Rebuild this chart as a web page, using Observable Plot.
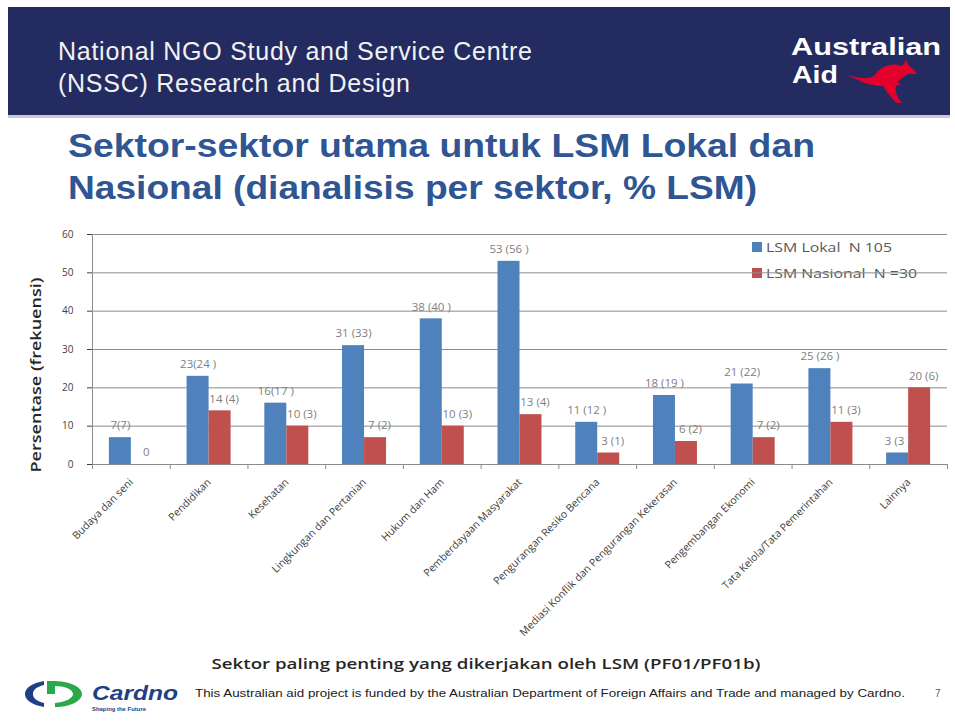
<!DOCTYPE html>
<html>
<head>
<meta charset="utf-8">
<script src="https://cdn.jsdelivr.net/npm/d3@7"></script>
<script src="https://cdn.jsdelivr.net/npm/@observablehq/plot@0.6"></script>
<style>
  html, body { margin: 0; padding: 0; background: #fff; }
  body { width: 955px; height: 722px; position: relative; overflow: hidden; font-family: "Liberation Sans", Arial, sans-serif; }
  #deco { position: absolute; left: 0; top: 0; }
  #chart { position: absolute; left: 0; top: 224px; }
  #chart svg { overflow: visible; }
  #deco text { white-space: pre; }
</style>
</head>
<body>
<svg id="deco" width="955" height="722"></svg>
<div id="chart"></div>
<script>
// ---- data ----
const categories = [
  "Budaya dan seni", "Pendidikan", "Kesehatan", "Lingkungan dan Pertanian",
  "Hukum dan Ham", "Pemberdayaan Masyarakat", "Pengurangan Resiko Bencana",
  "Mediasi Konflik dan Pengurangan Kekerasan", "Pengembangan Ekonomi",
  "Tata Kelola/Tata Pemerintahan", "Lainnya"
];
const lokal    = [7, 23, 16, 31, 38, 53, 11, 18, 21, 25, 3];
const nasional = [0, 14, 10, 7, 10, 13, 3, 6, 7, 11, 20];
const lokalLabels    = ["7(7)", "23(24 )", "16(17 )", "31 (33)", "38 (40 )", "53 (56 )", "11 (12 )", "18 (19 )", "21 (22)", "25 (26 )", "3 (3 )"];
const nasionalLabels = ["0", "14 (4)", "10 (3)", "7 (2)", "10 (3)", "13 (4)", "3 (1)", "6 (2)", "7 (2)", "11 (3)", "20 (6)"];
const yTicks = [0, 10, 20, 30, 40, 50, 60];
const seriesNames = ["LSM Lokal  N 105", "LSM Nasional  N =30"];
const seriesColors = ["#4f81bd", "#c0504d"];
const headerLines = ["National NGO Study and Service Centre", "(NSSC) Research and Design"];
const titleLines = ["Sektor-sektor utama untuk LSM Lokal dan", "Nasional (dianalisis per sektor, % LSM)"];
const yTitle = "Persentase (frekuensi)";
const xTitle = "Sektor paling penting yang dikerjakan oleh LSM (PF01/PF01b)";
const footerText = "This Australian aid project is funded by the Australian Department of Foreign Affairs and Trade and managed by Cardno.";
const pageNumber = "7";

// ---- chart ----
const rows = categories.map((c, i) => ({c, lokal: lokal[i], nasional: nasional[i], ll: lokalLabels[i], nl: nasionalLabels[i]}));
const W = 955, ML = 92, MR = 8;
const step = (W - ML - MR) / categories.length;
const barW = 22;
const pin = 1 - (2 * barW) / step;
const grid = "#8c8c8c";

const chart = Plot.plot({
  width: W, height: 430,
  marginTop: 10, marginRight: MR, marginBottom: 190, marginLeft: ML,
  style: {fontFamily: "'Open Sans', sans-serif", fontSize: "10px", color: "#404040", background: "transparent", overflow: "visible"},
  x: {domain: categories, round: false, paddingInner: pin, paddingOuter: pin / 2, tickSize: 0, tickRotate: -45, tickPadding: 16, label: null},
  y: {domain: [0, 60], ticks: yTicks, tickSize: 5, tickPadding: 14, label: null},
  marks: [
    Plot.ruleY(yTicks, {stroke: grid}),
    Plot.ruleX([categories[0]], {x: d => d, dx: -step / 2, stroke: grid}),
    Plot.barY(rows, {x: "c", y: "lokal", fill: seriesColors[0], insetRight: barW}),
    Plot.barY(rows, {x: "c", y: "nasional", fill: seriesColors[1], insetLeft: barW}),
    Plot.ruleX(categories, {x: d => d, y1: 0, y2: 0, insetBottom: -5, dx: -step / 2, stroke: grid}),
    Plot.ruleX(categories.slice(-1), {x: d => d, y1: 0, y2: 0, insetBottom: -5, dx: step / 2, stroke: grid}),
    Plot.text(rows, {x: "c", y: "lokal", text: "ll", dx: -barW / 2, dy: -12, fill: "#808080", fontSize: 11.5}),
    Plot.text(rows, {x: "c", y: "nasional", text: "nl", dx: barW / 2 + 4, dy: -12, fill: "#808080", fontSize: 11.5})
  ]
});
document.getElementById("chart").appendChild(chart);
// slightly larger category labels, like the reference
d3.select(chart).selectAll('[aria-label="x-axis tick label"] text').attr("font-size", 10.5);

// ---- decorations: header, title, axis titles, legend, footer ----
const deco = d3.select("#deco");
// header band
deco.append("rect").attr("x", 8).attr("y", 7).attr("width", 942).attr("height", 108).attr("fill", "#232b60");
deco.append("rect").attr("x", 8).attr("y", 115).attr("width", 942).attr("height", 3).attr("fill", "#c9cad6");
deco.append("text").attr("x", 58).attr("y", 60).attr("fill", "#f2f2f2").attr("font-size", 25)
  .attr("textLength", 474).attr("lengthAdjust", "spacing").text(headerLines[0]);
deco.append("text").attr("x", 58).attr("y", 92).attr("fill", "#f2f2f2").attr("font-size", 25)
  .attr("textLength", 352).attr("lengthAdjust", "spacing").text(headerLines[1]);
// Australian Aid logo
deco.append("text").attr("x", 791).attr("y", 55).attr("fill", "#fff").attr("font-size", 24).attr("font-weight", "bold")
  .attr("textLength", 150).attr("lengthAdjust", "spacingAndGlyphs").text("Australian");
deco.append("text").attr("x", 792).attr("y", 83).attr("fill", "#fff").attr("font-size", 24).attr("font-weight", "bold")
  .attr("textLength", 46).attr("lengthAdjust", "spacingAndGlyphs").text("Aid");
deco.append("path").attr("fill", "#e4002b")
  .attr("d", "M846,74 C855,78 866,80 874,76 C880,66 893,62 902,66 L906,60 L909,66 C912,68 916,71 917,74 L908,74 C904,76 900,80 897,82 L901,84 L896,86 C895,92 897,98 902,103 L897,103 C890,97 887,92 883,86 C876,86 866,84 858,80 C853,78 849,76 846,74 Z");
// title
deco.append("text").attr("x", 68).attr("y", 157).attr("fill", "#2f5592").attr("font-size", 33).attr("font-weight", "bold")
  .attr("textLength", 747).attr("lengthAdjust", "spacingAndGlyphs").text(titleLines[0]);
deco.append("text").attr("x", 68).attr("y", 199).attr("fill", "#2f5592").attr("font-size", 33).attr("font-weight", "bold")
  .attr("textLength", 689).attr("lengthAdjust", "spacingAndGlyphs").text(titleLines[1]);
// y title
deco.append("text").attr("transform", "translate(41,375) rotate(-90)").attr("text-anchor", "middle")
  .attr("font-family", "'Open Sans', sans-serif").attr("font-size", 14).attr("font-weight", 600).attr("fill", "#262626")
  .attr("textLength", 195).attr("lengthAdjust", "spacingAndGlyphs").text(yTitle);
// x title
deco.append("text").attr("x", 486).attr("y", 669).attr("text-anchor", "middle")
  .attr("font-family", "'Open Sans', sans-serif").attr("font-size", 15).attr("font-weight", 600).attr("fill", "#262626")
  .attr("textLength", 549).attr("lengthAdjust", "spacingAndGlyphs").text(xTitle);
// legend
const legendLen = [126, 151];
seriesNames.forEach((name, i) => {
  const y = 247 + i * 26;
  deco.append("rect").attr("x", 752).attr("y", y - 5).attr("width", 10).attr("height", 10).attr("fill", seriesColors[i]);
  deco.append("text").attr("x", 766).attr("y", y).attr("dy", "0.35em").attr("font-family", "'Open Sans', sans-serif")
    .attr("font-size", 13.5).attr("fill", "#595959").attr("textLength", legendLen[i]).attr("lengthAdjust", "spacingAndGlyphs").text(name);
});
// Cardno logo
deco.append("path").attr("fill", "#1f3f86")
  .attr("d", "M44,681 C32,683 25,688 25,694 C25,700 32,705 44,707 L44,703 C36,701 33,698 33,694 C33,690 36,687 44,685 Z");
deco.append("path").attr("fill", "#2aa84a")
  .attr("d", "M47,681 L52,681 C70,681 82,687 82,694 C82,701 70,707 55,707 L55,703 C66,702 73,698 73,694 C73,690 66,686 55,686 L55,694 L47,694 Z");
deco.append("text").attr("x", 92).attr("y", 700).attr("fill", "#1f3f86").attr("font-size", 20).attr("font-weight", "bold")
  .attr("font-style", "italic").attr("textLength", 86).attr("lengthAdjust", "spacingAndGlyphs").text("Cardno");
deco.append("text").attr("x", 92).attr("y", 711).attr("fill", "#1f3f86").attr("font-size", 6).attr("font-weight", "bold")
  .attr("textLength", 54).attr("lengthAdjust", "spacingAndGlyphs").text("Shaping the Future");
// footer
deco.append("text").attr("x", 195).attr("y", 697).attr("fill", "#1a1a1a").attr("font-size", 10)
  .attr("textLength", 710).attr("lengthAdjust", "spacingAndGlyphs").text(footerText);
deco.append("text").attr("x", 935).attr("y", 697).attr("fill", "#595959").attr("font-size", 10).text(pageNumber);
</script>
</body>
</html>
